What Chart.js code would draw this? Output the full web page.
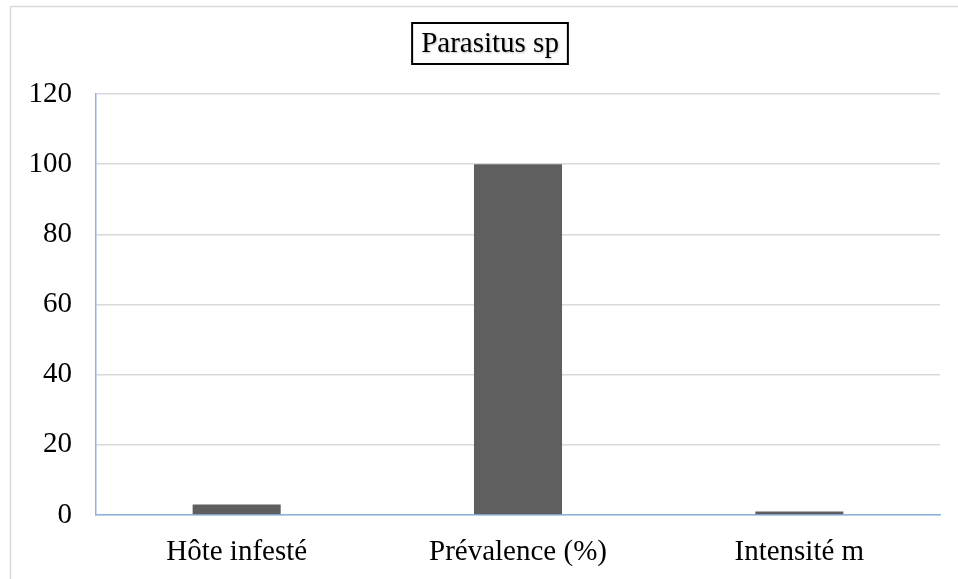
<!DOCTYPE html>
<html>
<head>
<meta charset="utf-8">
<script src="https://cdn.jsdelivr.net/npm/chart.js@4.4.0/dist/chart.umd.min.js"></script>
<style>
    html, body { margin: 0; padding: 0; background: #ffffff; }
    #wrap { width: 958px; height: 579px; position: relative; }
</style>
</head>
<body>
<div id="wrap"><canvas id="c_parasitus"></canvas></div>
<script>
// data
const categories = ['Hôte infesté', 'Prévalence (%)', 'Intensité m']
const values = [3, 100, 1]
const yTicks = [0, 20, 40, 60, 80, 100, 120]
const chartTitle = 'Parasitus sp'

const serif = '"Liberation Serif", "Times New Roman", serif'

// frame + boxed title
const framePlugin = {
    id: 'frame',
    beforeDraw(chart) {
        const c = chart.ctx
        c.save()
        c.strokeStyle = '#d9d9d9'
        c.lineWidth = 1.5
        c.strokeRect(10.5, 6.5, chart.width, chart.height)
        c.restore()
    },
    afterDraw(chart) {
        const c = chart.ctx
        c.save()
        c.font = '29px ' + serif
        const w = c.measureText(chartTitle).width
        const cx = 490, cy = 43
        c.strokeStyle = '#000000'
        c.lineWidth = 2
        c.strokeRect(cx - w / 2 - 9, 23, w + 18, 41)
        c.fillStyle = '#000000'
        c.textAlign = 'center'
        c.textBaseline = 'middle'
        c.shadowColor = 'rgba(0,0,0,0.25)'
        c.shadowOffsetX = 1
        c.shadowOffsetY = 1
        c.shadowBlur = 2
        c.fillText(chartTitle, cx, cy + 1)
        c.restore()
    }
}

const ctx = document.getElementById('c_parasitus').getContext('2d')
new Chart(ctx, {
    type: 'bar',
    data: {
        labels: categories,
        datasets: [{
            data: values,
            backgroundColor: '#5f5f5f',
            borderWidth: 0,
            categoryPercentage: 1,
            barPercentage: 0.313
        }]
    },
    options: {
        responsive: true,
        maintainAspectRatio: false,
        animation: false,
        layout: { padding: { left: 0, top: 94, right: 18, bottom: 0 } },
        plugins: {
            legend: { display: false },
            title: { display: false },
            tooltip: { enabled: false }
        },
        scales: {
            x: {
                grid: { display: false, drawTicks: false },
                border: { color: '#8db3e2', width: 1.5 },
                ticks: {
                    padding: 20,
                    color: '#000000',
                    font: { family: serif, size: 29 }
                },
                afterFit: (s) => { s.height = 64 }
            },
            y: {
                min: 0,
                max: 120,
                afterBuildTicks: (s) => { s.ticks = yTicks.map(v => ({ value: v })) },
                grid: { color: '#d9d9d9', lineWidth: 1.5, drawTicks: false },
                border: { color: '#8db3e2', width: 1.5 },
                ticks: {
                    padding: 24,
                    color: '#000000',
                    font: { family: serif, size: 29 }
                },
                afterFit: (s) => { s.width = 96 }
            }
        }
    },
    plugins: [framePlugin]
})
</script>
</body>
</html>
